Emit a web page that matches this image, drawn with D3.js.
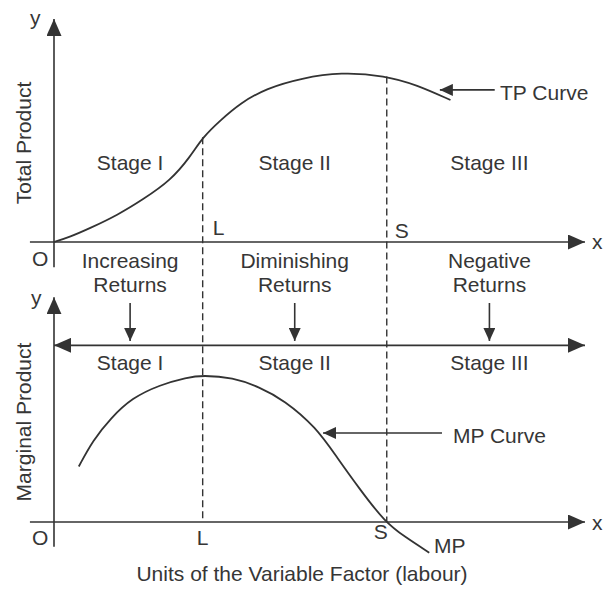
<!DOCTYPE html>
<html>
<head>
<style>
  body { margin: 0; background: #fff; }
  text { font-family: "Liberation Sans", Arial, sans-serif; fill: #363636; font-size: 21px; }
</style>
</head>
<body>
<script src="https://cdn.jsdelivr.net/npm/d3@7"></script>
<script>
var width = 606, height = 589;

// total product curve (labour units, TP)
var tpLabour = [0, 0.45, 1, 1.8, 2.5, 3.3, 3.85, 4.2, 4.7, 5.25, 6, 7, 8.1, 9.35, 10.25, 11.2];
var tpValues = [0, 3, 8, 16, 25, 36.5, 50.5, 62, 72, 82, 91, 97, 100.5, 98.5, 93, 84];

// marginal product curve (labour units, MP)
var mpLabour = [0.7, 1.1, 1.6, 2.2, 3, 3.75, 4.2, 5.05, 5.8, 6.5, 7.4, 8, 8.65, 9.35, 9.9, 10.6];
var mpValues = [38, 56, 71, 85, 94, 99, 100.5, 99, 92.5, 83.5, 65, 44, 22, 0, -10, -21];

var stageNames = ["Stage I", "Stage II", "Stage III"];
var stageCentres = [2.15, 6.8, 12.3];
var returnLabels = [["Increasing", "Returns"], ["Diminishing", "Returns"], ["Negative", "Returns"]];
var pointL = 4.2, pointS = 9.4;

var x = d3.scaleLinear().domain([0, 15]).range([54, 585]);
var yTop = d3.scaleLinear().domain([0, 100]).range([242, 73]);
var yBot = d3.scaleLinear().domain([0, 100]).range([522, 376]);

var svg = d3.select("body").append("svg")
    .attr("width", width)
    .attr("height", height);

var defs = svg.append("defs");
function marker(id, len, half) {
  defs.append("marker")
      .attr("id", id)
      .attr("markerUnits", "userSpaceOnUse")
      .attr("viewBox", "0 " + (-half) + " " + len + " " + (2 * half))
      .attr("refX", len).attr("refY", 0)
      .attr("markerWidth", len).attr("markerHeight", 2 * half)
      .attr("orient", "auto-start-reverse")
    .append("path")
      .attr("d", "M0," + (-half) + "L" + len + ",0L0," + half + "Z")
      .attr("fill", "#333");
}
marker("axisHead", 17, 7.5);
marker("smallHead", 13, 6);

var ink = "#333";

function line(x1, y1, x2, y2, head) {
  var l = svg.append("line")
      .attr("x1", x1).attr("y1", y1).attr("x2", x2).attr("y2", y2)
      .attr("stroke", ink).attr("stroke-width", 1.6);
  if (head) l.attr("marker-end", "url(#" + head + ")");
  return l;
}

// axes
line(x(0), yTop(-15), x(0), yTop(132), "axisHead");
line(x(-0.68), yTop(0), x(15), yTop(0), "axisHead");
line(x(0), yBot(-17), x(0), yBot(154), "axisHead");
line(x(-0.68), yBot(0), x(15), yBot(0), "axisHead");

// double headed stage arrow
line(x(0), yBot(121), x(15), yBot(121), "axisHead")
    .attr("marker-start", "url(#axisHead)");

// dashed guides
svg.append("line")
    .attr("x1", x(pointL)).attr("x2", x(pointL))
    .attr("y1", yTop(62)).attr("y2", yBot(0))
    .attr("stroke", ink).attr("stroke-width", 1.4).attr("stroke-dasharray", "7,4");
svg.append("line")
    .attr("x1", x(pointS)).attr("x2", x(pointS))
    .attr("y1", yTop(98)).attr("y2", yBot(0))
    .attr("stroke", ink).attr("stroke-width", 1.4).attr("stroke-dasharray", "7,4");

// curves
var tpLine = d3.line()
    .x(function(d, i) { return x(tpLabour[i]); })
    .y(function(d) { return yTop(d); })
    .curve(d3.curveBasis);
svg.append("path")
    .attr("d", tpLine(tpValues))
    .attr("fill", "none").attr("stroke", ink).attr("stroke-width", 1.8);

var mpLine = d3.line()
    .x(function(d, i) { return x(mpLabour[i]); })
    .y(function(d) { return yBot(d); })
    .curve(d3.curveBasis);
svg.append("path")
    .attr("d", mpLine(mpValues))
    .attr("fill", "none").attr("stroke", ink).attr("stroke-width", 1.8);

// pointer arrows
line(x(12.45), yTop(90), x(10.9), yTop(90), "smallHead");
line(x(10.96), yBot(61), x(7.6), yBot(61), "smallHead");
stageCentres.forEach(function(c) {
  line(x(c), yBot(150), x(c), yBot(124), "smallHead");
});

// stage labels
stageNames.forEach(function(s, i) {
  svg.append("text").attr("x", x(stageCentres[i])).attr("y", 170)
      .attr("text-anchor", "middle").text(s);
  svg.append("text").attr("x", x(stageCentres[i])).attr("y", 370)
      .attr("text-anchor", "middle").text(s);
  svg.append("text").attr("x", x(stageCentres[i])).attr("y", 268)
      .attr("text-anchor", "middle").text(returnLabels[i][0]);
  svg.append("text").attr("x", x(stageCentres[i])).attr("y", 292)
      .attr("text-anchor", "middle").text(returnLabels[i][1]);
});

function label(t, px, py, anchor) {
  return svg.append("text").attr("x", px).attr("y", py)
      .attr("text-anchor", anchor || "start").text(t);
}

label("y", 30, 25);
label("y", 31, 305);
label("x", 592, 249);
label("x", 592, 530);
label("O", 32, 266);
label("O", 32, 545);
label("L", x(pointL) + 10, 235);
label("S", x(pointS) + 8, 238);
label("L", x(pointL) - 6, 545);
label("S", x(pointS) - 13, 539);
label("MP", 434, 553);
label("TP Curve", 500, 100);
label("MP Curve", 453, 443);

svg.append("text")
    .attr("transform", "translate(31,143) rotate(-90)")
    .attr("text-anchor", "middle").text("Total Product");
svg.append("text")
    .attr("transform", "translate(31,422) rotate(-90)")
    .attr("text-anchor", "middle").text("Marginal Product");

label("Units of the Variable Factor (labour)", 302, 581, "middle");
</script>
</body>
</html>
